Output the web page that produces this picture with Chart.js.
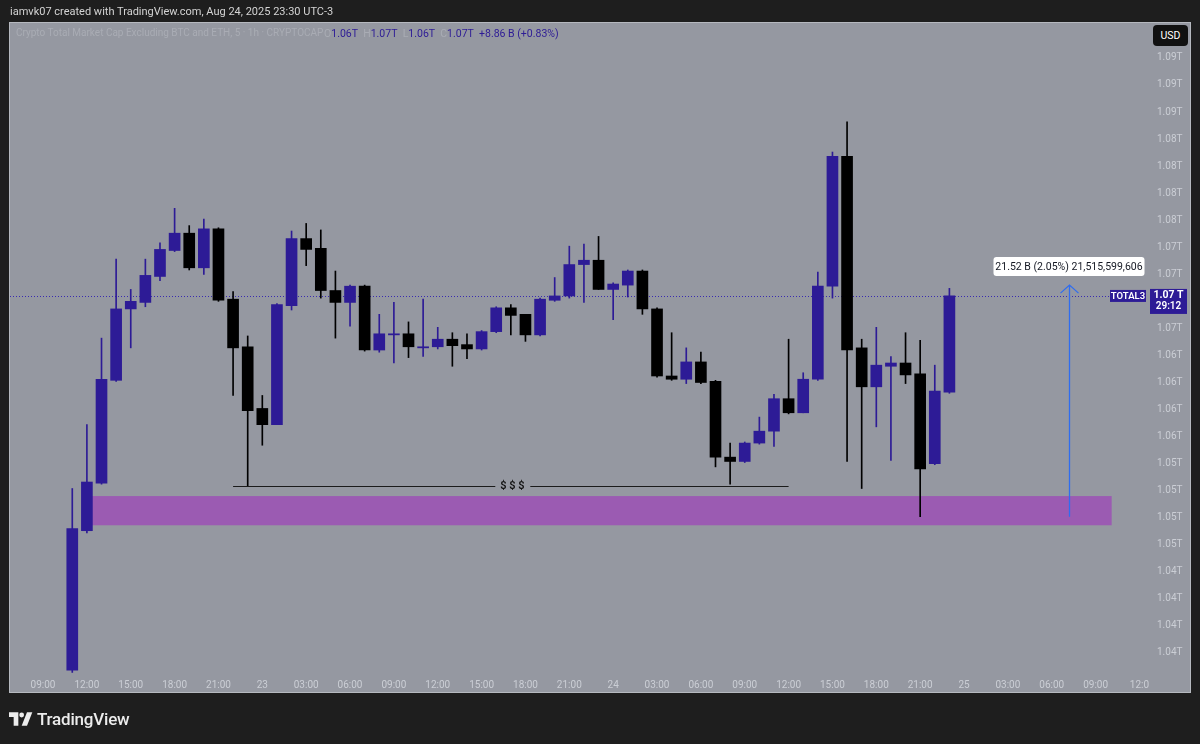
<!DOCTYPE html>
<html>
<head>
<meta charset="utf-8">
<title>TOTAL3 1h</title>
<script src="https://cdn.jsdelivr.net/npm/chart.js@4.4.1/dist/chart.umd.min.js"></script>
<style>
  html, body { margin: 0; padding: 0; background: #1e1e1e; }
  #wrap { position: relative; width: 1200px; height: 744px; overflow: hidden; font-family: Roboto, "Open Sans", sans-serif; }
  #chart { position: absolute; left: 0; top: 0; }
  .credit { position: absolute; left: 10px; top: 5px; font-size: 11px; color: #d4d4d4; white-space: nowrap; }
  .legend { position: absolute; top: 27px; font-size: 10px; color: #a9acb4; white-space: nowrap; }
  .legend b { font-weight: 400; color: #2d1b96; }
  .usd { position: absolute; left: 1153px; top: 25px; width: 35px; height: 21px; line-height: 21px; background: #111; border-radius: 4px;
         color: #fff; font-size: 10.5px; text-align: center; }
  .brand { position: absolute; left: 9px; top: 708px; height: 22px; display: flex; align-items: center; color: #ececec;
           font-size: 17px; font-weight: 500; letter-spacing: -0.2px; }
  .brand svg { margin-right: 4px; }
</style>
</head>
<body>
<div id="wrap">
  <canvas id="chart" width="1200" height="744"></canvas>
  <div class="credit">iamvk07 created with TradingView.com, Aug 24, 2025 23:30 UTC-3</div>
  <div class="legend" style="left:16px">Crypto Total Market Cap Excluding BTC and ETH, 5 · 1h · CRYPTOCAP</div>
  <div class="legend" style="left:324px;font-size:10.5px">O<b>1.06T</b>&nbsp; H<b>1.07T</b>&nbsp; L<b>1.06T</b>&nbsp; C<b>1.07T</b>&nbsp; <b>+8.86 B (+0.83%)</b></div>
  <div class="usd">USD</div>
  <div class="brand">
    <svg width="24" height="16" viewBox="0 0 36 24"><path d="M0 2H14V22H7V9H0Z" fill="#ececec"/><circle cx="19" cy="6" r="3.6" fill="#ececec"/><path d="M27 2H35L27 22H19Z" fill="#ececec"/></svg>
    TradingView
  </div>
</div>
<script>
// hours counted from Aug 22 09:00 (UTC-3), one candle per hour
const hours = [2, 3, 4, 5, 6, 7, 8, 9, 10, 11, 12, 13, 14, 15, 16, 17, 18, 19, 20, 21,
  22, 23, 24, 25, 26, 27, 28, 29, 30, 31, 32, 33, 34, 35, 36, 37, 38, 39, 40, 41,
  42, 43, 44, 45, 46, 47, 48, 49, 50, 51, 52, 53, 54, 55, 56, 57, 58, 59, 60, 61, 62];

// values in billions USD
const opens = [1033.4, 1046.3, 1050.7, 1060.2, 1066.8, 1067.4, 1069.8, 1072.2, 1073.8, 1070.6,
  1074.2, 1067.7, 1063.3, 1057.6, 1056.1, 1067.1, 1073.3, 1072.4, 1068.5, 1067.4,
  1068.9, 1063.0, 1064.4, 1064.5, 1063.2, 1063.3, 1064.0, 1063.5, 1063.1, 1064.7,
  1066.9, 1066.3, 1064.4, 1067.6, 1068.0, 1070.9, 1071.3, 1068.6, 1069.0, 1070.3,
  1066.8, 1060.6, 1060.3, 1061.9, 1060.1, 1053.1, 1052.7, 1054.4, 1055.5, 1058.5,
  1057.2, 1060.3, 1068.9, 1080.9, 1063.2, 1059.6, 1061.5, 1061.8, 1060.8, 1052.5, 1059.1];
const highs = [1050.2, 1056.1, 1064.1, 1071.4, 1068.6, 1071.4, 1072.9, 1076.1, 1074.5, 1075.1,
  1074.3, 1068.4, 1064.3, 1058.8, 1067.3, 1074.0, 1074.7, 1074.1, 1070.3, 1069.0,
  1069.0, 1066.3, 1067.4, 1065.6, 1067.7, 1065.1, 1064.6, 1064.5, 1064.8, 1067.0,
  1067.2, 1066.3, 1067.8, 1069.7, 1072.6, 1072.8, 1073.5, 1069.2, 1070.4, 1070.4,
  1066.9, 1064.6, 1063.2, 1062.8, 1060.2, 1054.4, 1054.5, 1056.8, 1058.9, 1064.0,
  1060.9, 1070.2, 1081.3, 1084.1, 1064.0, 1065.1, 1062.4, 1064.6, 1063.9, 1061.6, 1068.7];
const lows = [1033.2, 1046.1, 1050.6, 1060.1, 1063.2, 1067.0, 1069.4, 1072.1, 1070.4, 1070.0,
  1067.5, 1058.8, 1050.4, 1054.2, 1056.1, 1066.7, 1070.8, 1067.8, 1064.1, 1065.2,
  1062.9, 1062.8, 1061.8, 1062.3, 1062.4, 1063.1, 1061.5, 1062.2, 1063.0, 1064.6,
  1064.4, 1063.8, 1064.3, 1067.5, 1067.8, 1067.4, 1068.6, 1065.8, 1067.9, 1066.3,
  1060.5, 1060.2, 1059.9, 1059.9, 1052.2, 1050.6, 1052.6, 1054.3, 1054.1, 1057.1,
  1057.2, 1060.2, 1067.8, 1052.7, 1050.2, 1055.9, 1052.8, 1059.9, 1047.6, 1052.4, 1059.0];
const closes = [1046.5, 1050.8, 1060.3, 1066.8, 1067.5, 1069.9, 1072.3, 1073.8, 1070.6, 1074.2,
  1067.6, 1063.2, 1057.4, 1056.1, 1067.2, 1073.3, 1072.3, 1068.5, 1067.4, 1068.9,
  1063.0, 1064.5, 1064.5, 1063.3, 1063.3, 1064.0, 1063.4, 1063.1, 1064.7, 1066.9,
  1066.2, 1064.4, 1067.7, 1068.0, 1070.9, 1071.3, 1068.6, 1069.1, 1070.3, 1066.8,
  1060.6, 1060.3, 1061.9, 1060.0, 1053.1, 1052.7, 1054.4, 1055.5, 1058.5, 1057.2,
  1060.3, 1068.9, 1080.9, 1063.0, 1059.6, 1061.6, 1061.8, 1060.7, 1052.0, 1059.2, 1068.0];

// axis ticks
const xTickHours = [0, 3, 6, 9, 12, 15, 18, 21, 24, 27, 30, 33, 36, 39, 42, 45, 48, 51, 54, 57, 60, 63, 66, 69, 72, 75];
const xTickLabels = ['09:00', '12:00', '15:00', '18:00', '21:00', '23', '03:00', '06:00', '09:00', '12:00', '15:00', '18:00', '21:00',
  '24', '03:00', '06:00', '09:00', '12:00', '15:00', '18:00', '21:00', '25', '03:00', '06:00', '09:00', '12:0'];
const yTickValues = [1035, 1037.5, 1040, 1042.5, 1045, 1047.5, 1050, 1052.5, 1055, 1057.5, 1060, 1062.5,
  1065, 1067.5, 1070, 1072.5, 1075, 1077.5, 1080, 1082.5, 1085, 1087.5, 1090];
const yTickLabels = ['1.04T', '1.04T', '1.04T', '1.04T', '1.05T', '1.05T', '1.05T', '1.05T', '1.06T', '1.06T', '1.06T', '1.06T',
  '1.07T', '1.07T', '1.07T', '1.07T', '1.08T', '1.08T', '1.08T', '1.08T', '1.09T', '1.09T', '1.09T'];

// drawings on the chart
const zone = { from: 3.3, to: 73.1, top: 1049.5, bottom: 1046.8 };
const liquidity = { from: 13, to: 51, level: 1050.4, labelAt: 32.1, text: '$ $ $' };
const measure = { at: 70.2, from: 1047.6, to: 1069.0, text: '21.52 B (2.05%) 21,515,599,606' };
const lastPrice = 1068.0;

const BULL = '#2d1b96';
const BEAR = '#000000';
const PANEL = '#9598a1';
const FONT = 'Roboto, "Open Sans", sans-serif';

const colors = hours.map((h, i) => closes[i] >= opens[i] ? BULL : BEAR);

// chart area is fixed to the TradingView pane
const noPadding = s => { s.paddingLeft = 0; s.paddingRight = 0; s.paddingTop = 0; s.paddingBottom = 0; };

const drawings = {
    id: 'drawings',
    beforeDraw(chart) {
        const c = chart.ctx;
        c.save();
        c.fillStyle = PANEL;
        c.fillRect(9, 22, 1182, 671);
        c.strokeStyle = 'rgba(205,207,212,0.6)';
        c.lineWidth = 1;
        c.strokeRect(9.5, 22.5, 1181, 670);
        c.restore();
    },
    beforeDatasetsDraw(chart) {
        const c = chart.ctx, x = chart.scales.x, y = chart.scales.y, area = chart.chartArea;
        c.save();
        // demand zone
        c.fillStyle = '#9b5bb2';
        const zx = x.getPixelForValue(zone.from), zy = y.getPixelForValue(zone.top);
        c.fillRect(zx, zy, x.getPixelForValue(zone.to) - zx, y.getPixelForValue(zone.bottom) - zy);
        // last price dotted line
        const py = Math.round(y.getPixelForValue(lastPrice)) + 0.5;
        c.strokeStyle = '#3a2bb0';
        c.setLineDash([1, 2]);
        c.beginPath();
        c.moveTo(area.left, py);
        c.lineTo(area.right, py);
        c.stroke();
        c.restore();
    },
    afterDatasetsDraw(chart) {
        const c = chart.ctx, x = chart.scales.x, y = chart.scales.y;
        const area = chart.chartArea;
        c.save();
        c.setLineDash([]);
        // liquidity line with label
        const ly = Math.round(y.getPixelForValue(liquidity.level)) + 0.5;
        const lx = x.getPixelForValue(liquidity.labelAt);
        c.strokeStyle = '#1b1b1b';
        c.lineWidth = 1;
        c.beginPath();
        c.moveTo(x.getPixelForValue(liquidity.from), ly);
        c.lineTo(lx - 17, ly);
        c.moveTo(lx + 18, ly);
        c.lineTo(x.getPixelForValue(liquidity.to), ly);
        c.stroke();
        c.fillStyle = '#111';
        c.font = '600 11px ' + FONT;
        c.textAlign = 'center';
        c.textBaseline = 'middle';
        c.fillText(liquidity.text, lx, ly);

        // measure arrow
        const ax = Math.round(x.getPixelForValue(measure.at)) + 0.5;
        const ay1 = y.getPixelForValue(measure.from), ay2 = y.getPixelForValue(measure.to);
        c.strokeStyle = '#2f6df0';
        c.lineWidth = 1.3;
        c.beginPath();
        c.moveTo(ax, ay1);
        c.lineTo(ax, ay2);
        c.moveTo(ax - 9, ay2 + 8);
        c.lineTo(ax, ay2);
        c.lineTo(ax + 9, ay2 + 8);
        c.stroke();
        const bw = 151, bh = 19, bx = ax - 76, by = ay2 - 28;
        c.fillStyle = '#ffffff';
        c.beginPath();
        c.roundRect(bx, by, bw, bh, 3);
        c.fill();
        c.fillStyle = '#131722';
        c.font = '10.5px ' + FONT;
        c.fillText(measure.text, bx + bw / 2, by + bh / 2 + 0.5);

        // symbol + price labels
        const py = y.getPixelForValue(lastPrice);
        c.fillStyle = BULL;
        c.fillRect(area.right - 35, py - 6, 36, 12);
        c.fillRect(area.right + 5, py - 7, 37, 25);
        c.fillStyle = '#ffffff';
        c.font = '600 9.5px ' + FONT;
        c.fillText('TOTAL3', area.right - 17, py + 0.5);
        c.font = '700 10.5px ' + FONT;
        c.fillText((lastPrice / 1000).toFixed(2) + ' T', area.right + 23.5, py - 0.5);
        c.font = '600 10px ' + FONT;
        c.fillText('29:12', area.right + 23.5, py + 11);
        c.restore();
    }
};

const ctx = document.getElementById('chart').getContext('2d');
const chart = new Chart(ctx, {
    type: 'bar',
    data: {
        datasets: [{
            label: 'body',
            data: hours.map((h, i) => ({ x: h, y: [opens[i], closes[i]] })),
            backgroundColor: colors,
            borderWidth: 0,
            barThickness: 11,
            grouped: false,
            order: 0
        }, {
            label: 'wick',
            data: hours.map((h, i) => ({ x: h, y: [lows[i], highs[i]] })),
            backgroundColor: colors,
            borderWidth: 0,
            barThickness: 1,
            grouped: false,
            order: 1
        }]
    },
    options: {
        responsive: false,
        animation: false,
        devicePixelRatio: 1,
        layout: { padding: { left: 10, right: 10, top: 22, bottom: 51 } },
        plugins: {
            legend: { display: false },
            tooltip: { enabled: false }
        },
        scales: {
            x: {
                type: 'linear',
                offset: false,
                min: -2.26,
                max: 75.38,
                grid: { display: false, drawTicks: false },
                border: { display: false },
                afterBuildTicks: s => { s.ticks = xTickHours.map(v => ({ value: v })); },
                afterFit: s => { s.height = 17; noPadding(s); },
                ticks: {
                    autoSkip: false,
                    maxRotation: 0,
                    padding: 3,
                    color: '#cbced5',
                    font: { size: 10, family: FONT },
                    callback: (v, i) => xTickLabels[i]
                }
            },
            y: {
                position: 'right',
                min: 1032.87,
                max: 1093.32,
                grid: { display: false, drawTicks: false },
                border: { display: false },
                afterBuildTicks: s => { s.ticks = yTickValues.map(v => ({ value: v })); },
                afterFit: s => { s.width = 45; noPadding(s); },
                ticks: {
                    padding: 12,
                    color: '#cbced5',
                    font: { size: 10, family: FONT },
                    callback: (v, i) => yTickLabels[i]
                }
            }
        }
    },
    plugins: [drawings]
});
</script>
</body>
</html>
